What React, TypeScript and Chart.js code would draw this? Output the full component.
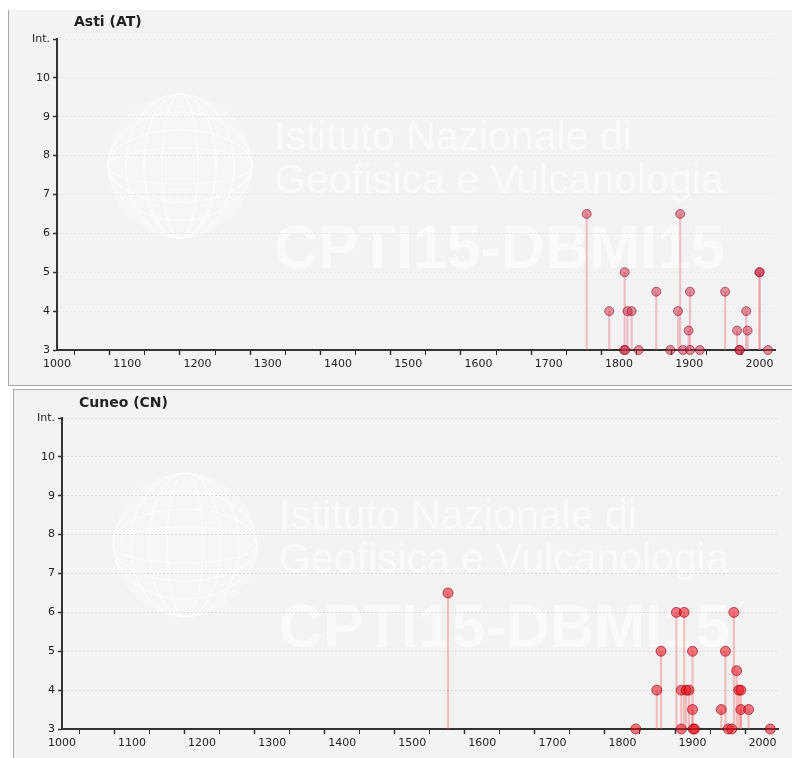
import React, { useEffect, useRef } from "react";
import { Chart, registerables } from "chart.js";

Chart.register(...registerables);

// ---- data ----
const astiYears = [1754, 1786, 1808, 1807, 1809, 1812, 1818, 1828, 1853, 1873, 1884, 1887, 1891, 1899, 1901, 1901, 1915, 1951, 1968, 1971, 1972, 1981, 1983, 2000, 2000, 2012];
const astiIntensity = [6.5, 4, 5, 3, 3, 4, 4, 3, 4.5, 3, 4, 6.5, 3, 3.5, 4.5, 3, 3, 4.5, 3.5, 3, 3, 4, 3.5, 5, 5, 3];

const cuneoYears = [1551, 1819, 1849, 1855, 1877, 1884, 1884, 1888, 1891, 1895, 1900, 1900, 1901, 1903, 1941, 1947, 1951, 1956, 1959, 1963, 1966, 1969, 1969, 1980, 2011];
const cuneoIntensity = [6.5, 3, 4, 5, 6, 4, 3, 6, 4, 4, 5, 3.5, 3, 3, 3.5, 5, 3, 3, 6, 4.5, 4, 4, 3.5, 3.5, 3];

const xMin = 1000;
const xMax = 2022;
const xStep = 50;
const yMin = 3;
const yMax = 11;
const yTopLabel = "Int.";
const watermarkLines = ["Istituto Nazionale di", "Geofisica e Vulcanologia", "CPTI15-DBMI15"];

type PanelProps = {
  title: string;
  years: number[];
  values: number[];
  width: number;
  height: number;
  padRight: number;
  titleBaseline: number;
  dotFill: string;
  dotBorder: string;
  stemColor: string;
  dotRadius: number;
  gridColor: string;
};

const watermarkPlugin = {
  id: "watermark",
  beforeDraw(chart: any) {
    const ctx = chart.ctx as CanvasRenderingContext2D;
    ctx.save();
    const cx = 172, cy = 156, r = 72;
    ctx.fillStyle = "rgba(255,255,255,0.3)";
    ctx.beginPath();
    ctx.arc(cx, cy, r, 0, Math.PI * 2);
    ctx.fill();
    ctx.strokeStyle = "rgba(255,255,255,0.5)";
    ctx.lineWidth = 1.5;
    for (let k = 1; k <= 3; k++) {
      ctx.beginPath();
      ctx.ellipse(cx, cy, (r * k) / 4, r, 0, 0, Math.PI * 2);
      ctx.stroke();
      ctx.beginPath();
      ctx.ellipse(cx, cy, r, (r * k) / 4, 0, 0, Math.PI * 2);
      ctx.stroke();
    }
    ctx.fillStyle = "rgba(255,255,255,0.55)";
    ctx.textBaseline = "alphabetic";
    ctx.textAlign = "left";
    ctx.font = '41px "Liberation Sans", Arial, sans-serif';
    ctx.fillText(watermarkLines[0], 266, 140);
    ctx.fillText(watermarkLines[1], 266, 183);
    ctx.font = 'bold 61px "Liberation Sans", Arial, sans-serif';
    ctx.fillText(watermarkLines[2], 266, 258);
    ctx.restore();
  },
};

function Panel(p: PanelProps) {
  const ref = useRef<HTMLCanvasElement | null>(null);
  useEffect(() => {
    if (!ref.current) return;
    const stems = p.years.map((yr, i) => ({ x: yr, y: [yMin, p.values[i]] }));
    const points = p.years.map((yr, i) => ({ x: yr, y: p.values[i] }));
    const titlePlugin = {
      id: "panelTitle",
      afterDraw(chart: any) {
        const ctx = chart.ctx as CanvasRenderingContext2D;
        ctx.save();
        ctx.font = 'bold 14px "DejaVu Sans", sans-serif';
        ctx.fillStyle = "#222";
        ctx.textAlign = "left";
        ctx.textBaseline = "alphabetic";
        ctx.fillText(p.title, 66, p.titleBaseline);
        ctx.restore();
      },
    };
    const chart = new Chart(ref.current, {
      type: "scatter",
      data: {
        datasets: [
          {
            type: "bar",
            data: stems as any,
            backgroundColor: p.stemColor,
            borderWidth: 0,
            barThickness: 1.5,
            grouped: false,
            order: 2,
          } as any,
          {
            type: "scatter",
            data: points,
            backgroundColor: p.dotFill,
            borderColor: p.dotBorder,
            borderWidth: 1,
            pointRadius: p.dotRadius,
            pointHoverRadius: p.dotRadius,
            clip: false,
            order: 1,
          } as any,
        ],
      },
      options: {
        animation: false,
        responsive: false,
        devicePixelRatio: 1,
        layout: { padding: { left: 19, top: 29, right: p.padRight, bottom: 8 } },
        plugins: { legend: { display: false }, tooltip: { enabled: false }, title: { display: false } },
        scales: {
          x: {
            type: "linear",
            min: xMin,
            max: xMax,
            offset: false,
            afterFit: (s: any) => {
              s.height = 28;
            },
            ticks: {
              stepSize: xStep,
              includeBounds: false,
              autoSkip: false,
              maxRotation: 0,
              padding: 3,
              color: "#222",
              font: { family: '"DejaVu Sans", sans-serif', size: 11 },
              callback: (v: any) => (Number(v) % 100 === 0 ? String(v) : ""),
            },
            grid: {
              drawOnChartArea: false,
              drawTicks: true,
              tickLength: 5,
              tickColor: "#333",
              tickWidth: (c: any) => (c.tick && c.tick.value % 100 === 0 ? 1.5 : 1),
            },
            border: { color: "#333", width: 2 },
          } as any,
          y: {
            type: "linear",
            min: yMin,
            max: yMax,
            afterFit: (s: any) => {
              s.width = 30;
            },
            ticks: {
              stepSize: 1,
              padding: 3,
              color: "#222",
              font: { family: '"DejaVu Sans", sans-serif', size: 11 },
              callback: (v: any) => (Number(v) === yMax ? yTopLabel : String(v)),
            },
            grid: {
              color: p.gridColor,
              lineWidth: 1,
              drawTicks: true,
              tickLength: 4,
              tickColor: "#333",
              tickWidth: 1.5,
            },
            border: { color: "#333", width: 2, dash: [2, 2] },
          } as any,
        },
      },
      plugins: [watermarkPlugin, titlePlugin],
    });
    return () => chart.destroy();
  }, []);
  return <canvas ref={ref} width={p.width} height={p.height} style={{ display: "block", width: p.width, height: p.height }} />;
}

export default function App() {
  return (
    <div style={{ position: "fixed", left: 0, top: 0, width: 792, height: 758, overflow: "hidden", background: "#fff" }}>
      <div style={{ position: "absolute", left: 8, top: 10, width: 784, height: 376, background: "#f3f3f3", overflow: "hidden" }}>
        <Panel
          title="Asti (AT)"
          years={astiYears}
          values={astiIntensity}
          width={784}
          height={376}
          padRight={17}
          titleBaseline={16}
          dotFill="rgba(205,40,70,0.5)"
          dotBorder="rgba(130,0,30,0.55)"
          stemColor="rgba(235,110,130,0.4)"
          dotRadius={4.5}
          gridColor="#e8e8e8"
        />
      </div>
      <div style={{ position: "absolute", left: 8, top: 10, width: 1, height: 376, background: "#a8a8a8" }} />
      <div style={{ position: "absolute", left: 8, top: 385, width: 784, height: 1, background: "#a8a8a8" }} />
      <div style={{ position: "absolute", left: 13, top: 389, width: 779, height: 369, background: "#f3f3f3", overflow: "hidden" }}>
        <Panel
          title="Cuneo (CN)"
          years={cuneoYears}
          values={cuneoIntensity}
          width={779}
          height={376}
          padRight={14}
          titleBaseline={18}
          dotFill="rgba(235,10,25,0.55)"
          dotBorder="rgba(140,0,10,0.6)"
          stemColor="rgba(245,90,90,0.35)"
          dotRadius={5}
          gridColor="#dcdcdc"
        />
      </div>
      <div style={{ position: "absolute", left: 13, top: 389, width: 779, height: 1, background: "#b0b0b0" }} />
      <div style={{ position: "absolute", left: 13, top: 389, width: 1, height: 369, background: "#a8a8a8" }} />
    </div>
  );
}
